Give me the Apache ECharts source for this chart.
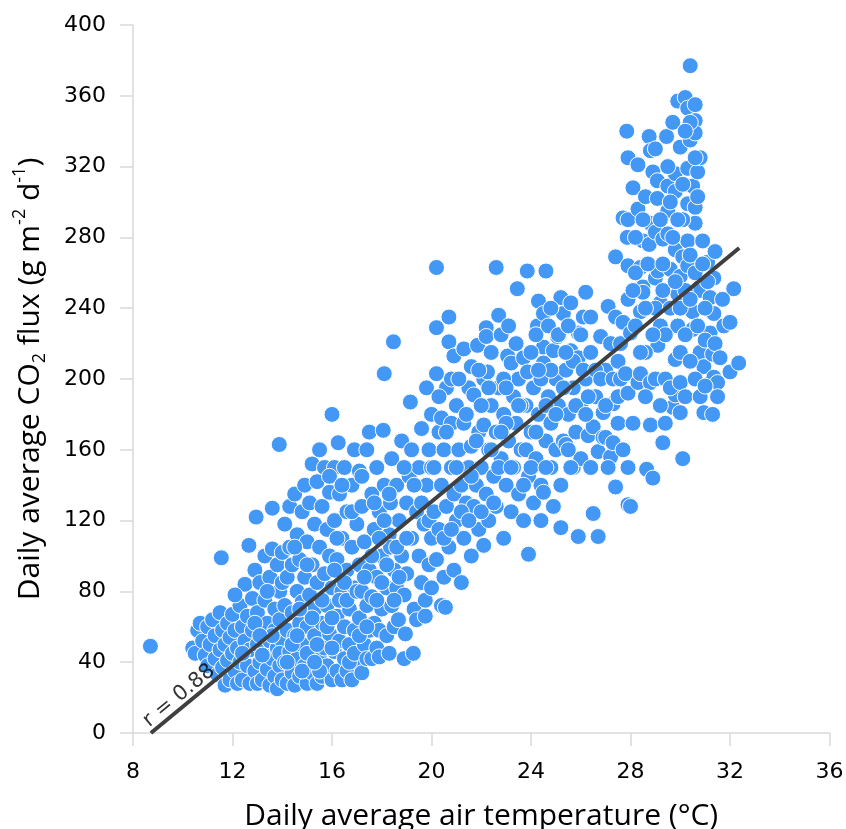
<!DOCTYPE html>
<html>
<head>
<meta charset="utf-8">
<script src="https://cdn.jsdelivr.net/npm/echarts@6/dist/echarts.min.js"></script>
<style>
html,body{margin:0;padding:0;background:#fff;}
#chart{width:846px;height:829px;}
</style>
</head>
<body>
<div id="chart"></div>
<script>
// Daily average air temperature (°C) vs daily average CO2 flux (g m-2 d-1), pairs [temp, flux]
var obsBelow14 = [
[8.7,49],
[10.4,48],[10.5,45],[10.6,58],[10.7,62],[10.8,52],[10.9,44],[11.0,60],[11.0,38],[11.1,50],[11.2,64],[11.3,42],[11.3,55],[11.4,33],[11.5,68],[11.5,47],[11.55,99],[11.6,58],[11.6,37],[11.7,27],[11.7,50],[11.8,62],[11.8,41],[11.9,30],[11.9,54],
[12.0,45],[12.0,67],[12.1,35],[12.1,58],[12.2,28],[12.2,48],[12.3,72],[12.3,40],[12.4,60],[12.4,30],[12.5,52],[12.5,84],[12.6,38],[12.6,66],[12.66,106],[12.7,28],[12.7,47],[12.8,58],[12.8,76],[12.9,35],[12.9,92],[12.95,122],[13.0,50],[13.0,28],[13.0,68],
[13.1,40],[13.1,85],[13.2,58],[13.2,30],[13.3,100],[13.3,48],[13.3,75],[13.4,36],[13.4,62],[13.5,27],[13.5,88],[13.5,52],[13.6,127],[13.6,42],[13.6,104],[13.7,70],[13.7,32],[13.7,58],[13.8,95],[13.8,25],[13.8,48],[13.88,163],[13.9,80],[13.9,38],[13.9,64],[14.0,102],[14.0,30],[14.0,52],
[12.1,78],[12.4,45],[12.9,62],[13.2,44],[13.4,80],[13.6,55],[13.9,45],[14.0,85],[13.1,55]
];
var obs14to17 = [
[14.1,72],[14.1,40],[14.1,118],[14.2,28],[14.2,88],[14.2,58],[14.3,105],[14.3,46],[14.3,128],[14.4,34],[14.4,68],[14.4,95],[14.5,55],[14.5,27],[14.5,135],[14.6,80],[14.6,42],[14.6,112],[14.7,62],[14.7,32],[14.7,98],[14.8,50],[14.8,125],[14.8,74],[14.9,38],[14.9,88],[14.9,140],[15.0,28],[15.0,60],[15.0,108],
[15.1,45],[15.1,78],[15.1,130],[15.2,34],[15.2,95],[15.2,152],[15.3,55],[15.3,118],[15.3,70],[15.4,28],[15.4,142],[15.4,85],[15.5,42],[15.5,105],[15.5,160],[15.6,62],[15.6,32],[15.6,128],[15.7,90],[15.7,48],[15.7,150],[15.8,72],[15.8,38],[15.8,115],[15.9,56],[15.9,100],[15.9,136],[16.0,180],[16.0,30],[16.0,82],
[16.1,46],[16.1,120],[16.1,150],[16.2,66],[16.2,35],[16.2,98],[16.25,164],[16.3,52],[16.3,135],[16.4,80],[16.4,30],[16.4,110],[16.5,60],[16.5,42],[16.5,150],[16.6,92],[16.6,125],[16.6,35],[16.7,70],[16.7,50],[16.8,105],[16.8,140],[16.8,30],[16.9,82],[16.9,58],[16.9,160],[17.0,40],[17.0,118],
[14.2,40],[14.4,50],[14.6,55],[14.8,35],[15.0,45],[15.2,65],[15.4,50],[15.6,75],[15.8,60],[16.0,65],[16.1,92],[16.3,75],[16.5,85],[16.7,40],[16.9,45],[16.0,48],[15.5,35],[14.7,70],[15.3,40],[16.6,75],[17.0,80],[16.2,110],[15.0,95],[14.5,105],[16.8,125],[15.9,145],[16.4,140]
];
var obs17to20 = [
[17.1,95],[17.1,65],[17.1,148],[17.2,34],[17.2,128],[17.2,80],[17.3,50],[17.3,108],[17.4,160],[17.4,72],[17.4,42],[17.5,170],[17.5,92],[17.5,58],[17.6,77],[17.6,42],[17.6,135],[17.7,115],[17.7,62],[17.8,88],[17.8,150],[17.8,48],[17.9,58],[17.9,43],[17.9,125],[18.0,100],[18.0,70],[18.06,171],[18.1,203],[18.1,140],
[18.2,82],[18.2,55],[18.3,45],[18.3,112],[18.35,130],[18.35,105],[18.4,155],[18.4,72],[18.47,221],[18.5,92],[18.5,60],[18.6,82],[18.6,140],[18.67,64],[18.7,120],[18.8,100],[18.8,165],[18.9,42],[18.9,78],[18.95,56],[19.0,130],[19.0,90],[19.1,145],[19.15,187],[19.2,160],[19.2,110],[19.27,45],[19.3,70],[19.4,64],[19.4,125],[19.5,100],[19.5,150],[19.6,85],[19.6,172],[19.7,118],[19.75,66],[19.75,75],[19.8,195],[19.8,140],[19.9,95],[19.9,160],[20.0,110],[20.0,82],[20.0,180],
[17.1,55],[17.3,88],[17.6,100],[17.8,75],[18.0,85],[18.2,95],[18.5,75],[18.7,88],[17.4,60],[17.7,130],[18.3,135],[17.2,145],[18.6,105],[19.0,110],[19.3,140],[19.6,130],[18.9,150],[19.9,120],[20.0,150],[17.9,110],[18.1,120]
];
var obs20to24 = [
[20.2,263],[20.2,229],[20.2,203],[20.1,150],[20.1,125],[20.2,98],[20.3,170],[20.3,115],[20.4,178],[20.4,72],[20.4,140],[20.5,88],[20.5,160],[20.56,71],[20.6,195],[20.6,128],[20.7,235],[20.7,221],[20.7,105],[20.8,150],[20.8,175],[20.9,213],[20.9,135],[20.9,92],[21.0,120],[21.0,185],[21.1,160],[21.2,85],[21.2,140],[21.3,217],[21.3,110],[21.3,175],[21.4,130],[21.5,195],[21.5,150],[21.6,207],[21.6,162],[21.6,100],[21.7,191],[21.7,128],[21.8,140],[21.85,219],[21.9,170],[21.9,115],[22.0,150],[22.1,106],[22.1,174],[22.1,200],[22.2,229],[22.2,224],[22.2,135],[22.25,204],[22.3,160],[22.3,120],[22.4,215],[22.4,185],[22.5,145],[22.6,263],[22.6,170],[22.6,128],[22.7,236],[22.7,195],[22.8,155],[22.8,225],[22.9,110],[22.9,180],[23.0,140],[23.06,213],[23.1,165],[23.2,209],[23.2,125],[23.3,190],[23.3,150],[23.45,251],[23.4,175],[23.5,135],[23.5,200],[23.6,160],[23.7,212],[23.7,120],[23.8,185],[23.85,261],[23.86,204],[23.9,101],[23.9,145],[24.0,170],
[20.3,190],[20.5,110],[20.8,200],[21.0,150],[21.2,125],[21.4,180],[21.6,145],[21.8,165],[22.0,185],[22.0,125],[22.3,195],[22.5,130],[22.7,150],[22.9,200],[23.0,175],[23.1,230],[23.2,150],[23.4,220],[23.6,185],[23.8,160],[23.5,185],[22.8,170],[21.9,205],[21.1,200],[20.6,170],[20.8,115],[21.5,120],[22.4,160],[23.0,195],[23.7,140]
];
var obs24to27 = [
[24.1,130],[24.1,195],[24.2,155],[24.26,230],[24.3,244],[24.3,180],[24.4,140],[24.4,120],[24.5,237],[24.5,218],[24.5,209],[24.5,136],[24.6,261],[24.6,165],[24.7,190],[24.8,150],[24.8,175],[24.9,216],[24.9,128],[25.0,200],[25.0,160],[25.07,224],[25.1,185],[25.2,246],[25.2,140],[25.2,116],[25.3,237],[25.3,165],[25.4,163],[25.4,205],[25.5,180],[25.6,216],[25.6,243],[25.7,150],[25.7,195],[25.8,170],[25.9,212],[25.9,226],[25.9,111],[26.0,155],[26.0,185],[26.1,235],[26.2,249],[26.2,200],[26.3,168],[26.4,215],[26.5,173],[26.5,124],[26.6,190],[26.7,159],[26.7,111],[26.8,224],[26.9,167],[26.9,181],[27.0,205],[27.0,167],[27.1,241],[27.2,156],[27.3,164],[27.3,186],[27.4,235],[27.4,269],[27.4,139],[27.5,175],[27.5,210],
[24.0,215],[24.0,150],[24.2,225],[24.2,170],[24.4,200],[24.6,185],[24.7,230],[24.8,205],[25.0,180],[25.1,225],[25.3,195],[25.5,230],[25.5,160],[25.7,210],[25.8,185],[26.0,225],[26.1,205],[26.3,190],[26.4,235],[26.6,205],[26.8,200],[27.0,185],[27.2,220],[27.3,200],[27.5,190],[26.2,180],[25.4,215],[24.8,240],[24.3,205],[24.6,150],[25.6,150],[26.4,150],[27.1,150]
];
var obsAbove27 = [
[27.6,220],[27.6,200],[27.7,291],[27.7,232],[27.7,160],[27.8,203],[27.85,340],[27.87,280],[27.9,325],[27.9,290],[27.9,264],[27.9,245],[27.9,192],[27.9,150],[27.9,129],[28.0,226],[28.0,128],[28.1,308],[28.1,175],[28.3,321],[28.3,296],[28.3,198],[28.4,263],[28.4,238],[28.4,203],[28.5,278],[28.5,252],[28.5,249],[28.6,303],[28.65,149],[28.75,337],[28.75,276],[28.8,329],[28.8,288],[28.8,198],[28.8,174],[28.9,317],[28.9,144],[29.0,283],[29.0,257],[29.08,312],[29.08,302],[29.1,261],[29.1,219],[29.2,243],[29.2,230],[29.3,279],[29.3,164],[29.4,175],[29.45,337],[29.5,309],[29.5,295],[29.5,282],[29.6,262],[29.7,345],[29.7,184],[29.8,316],[29.8,306],[29.8,273],[29.8,211],[29.8,191],[29.9,357],[29.9,248],[29.9,230],[30.0,331],[30.0,258],[30.0,181],[30.1,269],[30.1,155],[30.2,359],[30.3,353],[30.3,319],[30.3,299],[30.3,278],[30.3,264],[30.4,377],[30.4,335],[30.5,309],[30.5,238],[30.5,228],[30.6,346],[30.6,339],[30.6,297],[30.6,288],[30.7,317],[30.7,303],[30.8,252],[30.8,250],[30.8,215],[30.9,278],[30.95,207],[30.95,181],[31.1,266],[31.2,246],[31.2,226],[31.3,214],[31.3,180],[31.35,257],[31.35,237],[31.35,201],[31.5,198],[31.5,190],[31.75,230],[32.0,232],[32.0,204],[32.15,251],[32.35,209],
[28.2,260],[28.2,230],[28.6,215],[28.6,190],[28.7,265],[29.0,240],[29.0,200],[29.2,290],[29.3,250],[29.4,225],[29.4,200],[29.6,240],[29.6,195],[29.7,280],[30.0,240],[30.0,215],[30.0,198],[30.1,290],[30.2,250],[30.2,225],[30.2,190],[30.4,270],[30.4,245],[30.4,210],[30.6,260],[30.6,200],[30.7,230],[30.8,190],[31.0,240],[31.0,222],[31.0,196],[31.1,255],[31.4,220],[31.6,212],[31.7,245],[29.2,185],[28.9,225],[28.4,215],[28.1,250],[28.6,240],[29.3,265],[29.8,255],[30.9,265],[31.4,272],[29.9,290],[29.5,320],[30.1,310],[30.8,325],[30.6,325],[28.5,290],[28.2,280],[29.0,330],[30.6,355],[30.4,345],[29.6,300],[30.2,340]
];
// Linear fit endpoints and correlation label
var fitLine = [[8.72,0],[32.37,274]];
var fitLabel = 'r = 0.88';
var fitLabelAt = [9.85,21];
var xTicks = {min:8, max:36, step:4};
var yTicks = {min:0, max:400, step:40};

var observations = [].concat(obsBelow14, obs14to17, obs17to20, obs20to24, obs24to27, obsAbove27);

var chart = echarts.init(document.getElementById('chart'), null, {renderer:'canvas'});
var axisGrey = '#d9d9d9';
var tickFont = {fontFamily:'DejaVu Sans, sans-serif', fontSize:22, color:'#000'};
var titleFamily = 'Open Sans, sans-serif';
chart.setOption({
  animation:false,
  backgroundColor:'#fff',
  grid:{left:133, right:16.5, top:25, bottom:96, containLabel:false, outerBoundsMode:'none'},
  xAxis:{
    type:'value', min:xTicks.min, max:xTicks.max, interval:xTicks.step,
    axisLine:{show:true, onZero:false, lineStyle:{color:axisGrey, width:1.5}},
    axisTick:{show:true, inside:false, length:13, lineStyle:{color:axisGrey, width:1.5}},
    splitLine:{show:false},
    axisLabel:Object.assign({margin:28}, tickFont),
    name:'Daily average air temperature (°C)',
    nameLocation:'middle', nameGap:68,
    nameTextStyle:{fontFamily:titleFamily, fontSize:30, color:'#000'}
  },
  yAxis:{
    type:'value', min:yTicks.min, max:yTicks.max, interval:yTicks.step,
    axisLine:{show:true, onZero:false, lineStyle:{color:axisGrey, width:1.5}},
    axisTick:{show:true, inside:false, length:13, lineStyle:{color:axisGrey, width:1.5}},
    splitLine:{show:false},
    axisLabel:Object.assign({margin:27}, tickFont),
    name:'{t|Daily average CO}{sub|2}{t| flux (g m}{sup|-2}{t| d}{sup|-1}{t|)}',
    nameLocation:'middle', nameGap:84, nameRotate:90,
    nameTextStyle:{
      rich:{
        t:{fontFamily:titleFamily, fontSize:30, color:'#000', lineHeight:38, verticalAlign:'middle'},
        sub:{fontFamily:titleFamily, fontSize:18, color:'#000', lineHeight:18, verticalAlign:'bottom'},
        sup:{fontFamily:titleFamily, fontSize:18, color:'#000', lineHeight:18, verticalAlign:'top'}
      }
    }
  },
  series:[
    {
      type:'scatter', data:observations, symbol:'circle', symbolSize:16,
      itemStyle:{color:'#4398f6', opacity:1, borderColor:'#ffffff', borderWidth:1},
      z:2
    },
    {
      type:'line', data:fitLine, symbol:'none', silent:true,
      lineStyle:{color:'#3f3f3f', width:4},
      z:3
    },
    {
      type:'scatter', data:[fitLabelAt], symbolSize:0, silent:true,
      label:{show:true, position:'inside', formatter:fitLabel, rotate:39.5,
        fontFamily:'DejaVu Sans, sans-serif', fontSize:21, color:'#000'},
      z:4
    }
  ]
});
</script>
</body>
</html>
